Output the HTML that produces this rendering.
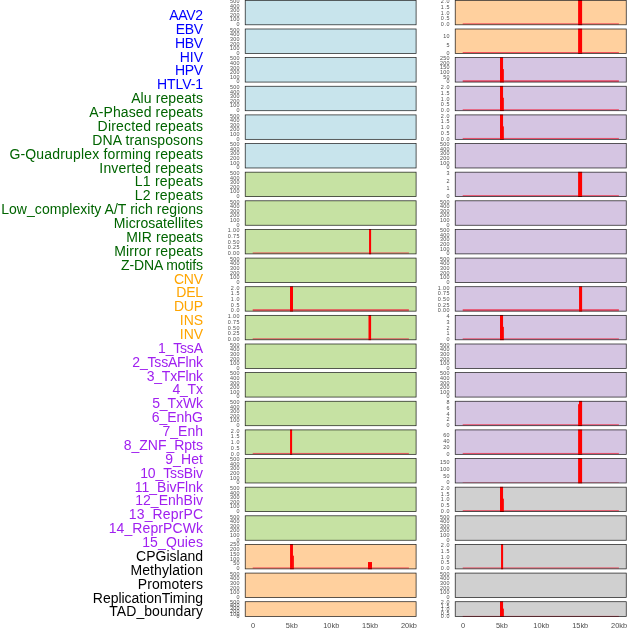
<!DOCTYPE html>
<html lang="en">
<head>
<meta charset="utf-8">
<title>Genomic feature tracks</title>
<style>
html,body{margin:0;padding:0;background:#fff;}
body{width:630px;height:630px;overflow:hidden;}
svg{display:block;font-family:"Liberation Sans",sans-serif;}
.l{font-size:14.0px;text-anchor:end;}
.t{font-size:5.4px;text-anchor:end;fill:#4d4d4d;}
.x{font-size:7.4px;text-anchor:middle;fill:#4d4d4d;}
</style>
</head>
<body>
<svg width="630" height="630" viewBox="0 0 630 630">
<rect width="630" height="630" fill="#ffffff"/>
<g id="plot">
<g id="panels">
<rect x="245.23" y="0.35" width="170.87" height="24.45" fill="#c8e4ec"/>
<rect x="245.23" y="0.35" width="170.87" height="24.45" fill="none" stroke="#000000" stroke-width="0.75" stroke-opacity="0.85"/>
<text x="239.38" y="3.00" class="t" textLength="9.31">500</text>
<text x="239.38" y="8.00" class="t" textLength="9.31">400</text>
<text x="239.38" y="12.00" class="t" textLength="9.31">300</text>
<text x="239.38" y="17.00" class="t" textLength="9.31">200</text>
<text x="239.38" y="21.00" class="t" textLength="9.31">100</text>
<text x="239.38" y="26.00" class="t">0</text>
<rect x="245.23" y="28.99" width="170.87" height="24.45" fill="#c8e4ec"/>
<rect x="245.23" y="28.99" width="170.87" height="24.45" fill="none" stroke="#000000" stroke-width="0.75" stroke-opacity="0.85"/>
<text x="239.38" y="32.00" class="t" textLength="9.31">500</text>
<text x="239.38" y="36.00" class="t" textLength="9.31">400</text>
<text x="239.38" y="41.00" class="t" textLength="9.31">300</text>
<text x="239.38" y="46.00" class="t" textLength="9.31">200</text>
<text x="239.38" y="50.00" class="t" textLength="9.31">100</text>
<text x="239.38" y="55.00" class="t">0</text>
<rect x="245.23" y="57.62" width="170.87" height="24.45" fill="#c8e4ec"/>
<rect x="245.23" y="57.62" width="170.87" height="24.45" fill="none" stroke="#000000" stroke-width="0.75" stroke-opacity="0.85"/>
<text x="239.38" y="60.00" class="t" textLength="9.31">500</text>
<text x="239.38" y="65.00" class="t" textLength="9.31">400</text>
<text x="239.38" y="70.00" class="t" textLength="9.31">300</text>
<text x="239.38" y="74.00" class="t" textLength="9.31">200</text>
<text x="239.38" y="79.00" class="t" textLength="9.31">100</text>
<text x="239.38" y="83.00" class="t">0</text>
<rect x="245.23" y="86.26" width="170.87" height="24.45" fill="#c8e4ec"/>
<rect x="245.23" y="86.26" width="170.87" height="24.45" fill="none" stroke="#000000" stroke-width="0.75" stroke-opacity="0.85"/>
<text x="239.38" y="89.00" class="t" textLength="9.31">500</text>
<text x="239.38" y="94.00" class="t" textLength="9.31">400</text>
<text x="239.38" y="98.00" class="t" textLength="9.31">300</text>
<text x="239.38" y="103.00" class="t" textLength="9.31">200</text>
<text x="239.38" y="107.00" class="t" textLength="9.31">100</text>
<text x="239.38" y="112.00" class="t">0</text>
<rect x="245.23" y="114.90" width="170.87" height="24.45" fill="#c8e4ec"/>
<rect x="245.23" y="114.90" width="170.87" height="24.45" fill="none" stroke="#000000" stroke-width="0.75" stroke-opacity="0.85"/>
<text x="239.38" y="118.00" class="t" textLength="9.31">500</text>
<text x="239.38" y="122.00" class="t" textLength="9.31">400</text>
<text x="239.38" y="127.00" class="t" textLength="9.31">300</text>
<text x="239.38" y="131.00" class="t" textLength="9.31">200</text>
<text x="239.38" y="136.00" class="t" textLength="9.31">100</text>
<text x="239.38" y="141.00" class="t">0</text>
<rect x="245.23" y="143.53" width="170.87" height="24.45" fill="#c8e4ec"/>
<rect x="245.23" y="143.53" width="170.87" height="24.45" fill="none" stroke="#000000" stroke-width="0.75" stroke-opacity="0.85"/>
<text x="239.38" y="146.00" class="t" textLength="9.31">500</text>
<text x="239.38" y="151.00" class="t" textLength="9.31">400</text>
<text x="239.38" y="155.00" class="t" textLength="9.31">300</text>
<text x="239.38" y="160.00" class="t" textLength="9.31">200</text>
<text x="239.38" y="165.00" class="t" textLength="9.31">100</text>
<text x="239.38" y="169.00" class="t">0</text>
<rect x="245.23" y="172.17" width="170.87" height="24.45" fill="#c6e2a3"/>
<rect x="245.23" y="172.17" width="170.87" height="24.45" fill="none" stroke="#000000" stroke-width="0.75" stroke-opacity="0.85"/>
<text x="239.38" y="175.00" class="t" textLength="9.31">500</text>
<text x="239.38" y="180.00" class="t" textLength="9.31">400</text>
<text x="239.38" y="184.00" class="t" textLength="9.31">300</text>
<text x="239.38" y="189.00" class="t" textLength="9.31">200</text>
<text x="239.38" y="193.00" class="t" textLength="9.31">100</text>
<text x="239.38" y="198.00" class="t">0</text>
<rect x="245.23" y="200.80" width="170.87" height="24.45" fill="#c6e2a3"/>
<rect x="245.23" y="200.80" width="170.87" height="24.45" fill="none" stroke="#000000" stroke-width="0.75" stroke-opacity="0.85"/>
<text x="239.38" y="204.00" class="t" textLength="9.31">500</text>
<text x="239.38" y="208.00" class="t" textLength="9.31">400</text>
<text x="239.38" y="213.00" class="t" textLength="9.31">300</text>
<text x="239.38" y="217.00" class="t" textLength="9.31">200</text>
<text x="239.38" y="222.00" class="t" textLength="9.31">100</text>
<text x="239.38" y="227.00" class="t">0</text>
<rect x="245.23" y="229.44" width="170.87" height="24.45" fill="#c6e2a3"/>
<rect x="252.70" y="252.49" width="156.2" height="0.90" fill="#ee2a44" opacity="0.85"/>
<rect x="369.05" y="229.09" width="2.05" height="25.15" fill="#ff0000"/>
<rect x="245.23" y="229.44" width="170.87" height="24.45" fill="none" stroke="#000000" stroke-width="0.75" stroke-opacity="0.85"/>
<text x="239.38" y="232.00" class="t" textLength="11.51">1.00</text>
<text x="239.38" y="238.00" class="t" textLength="11.51">0.75</text>
<text x="239.38" y="244.00" class="t" textLength="11.51">0.50</text>
<text x="239.38" y="249.00" class="t" textLength="11.51">0.25</text>
<text x="239.38" y="255.00" class="t" textLength="11.51">0.00</text>
<rect x="245.23" y="258.08" width="170.87" height="24.45" fill="#c6e2a3"/>
<rect x="245.23" y="258.08" width="170.87" height="24.45" fill="none" stroke="#000000" stroke-width="0.75" stroke-opacity="0.85"/>
<text x="239.38" y="261.00" class="t" textLength="9.31">500</text>
<text x="239.38" y="265.00" class="t" textLength="9.31">400</text>
<text x="239.38" y="270.00" class="t" textLength="9.31">300</text>
<text x="239.38" y="275.00" class="t" textLength="9.31">200</text>
<text x="239.38" y="279.00" class="t" textLength="9.31">100</text>
<text x="239.38" y="284.00" class="t">0</text>
<rect x="245.23" y="286.71" width="170.87" height="24.45" fill="#c6e2a3"/>
<rect x="252.70" y="309.11" width="156.2" height="2.00" fill="#ee2a44" opacity="0.72"/>
<rect x="290.00" y="286.36" width="3.00" height="25.15" fill="#ff0000"/>
<rect x="245.23" y="286.71" width="170.87" height="24.45" fill="none" stroke="#000000" stroke-width="0.75" stroke-opacity="0.85"/>
<text x="239.38" y="290.00" class="t" textLength="8.51">2.0</text>
<text x="239.38" y="295.00" class="t" textLength="8.51">1.5</text>
<text x="239.38" y="301.00" class="t" textLength="8.51">1.0</text>
<text x="239.38" y="307.00" class="t" textLength="8.51">0.5</text>
<text x="239.38" y="312.00" class="t" textLength="8.51">0.0</text>
<rect x="245.23" y="315.35" width="170.87" height="24.45" fill="#c6e2a3"/>
<rect x="252.70" y="338.40" width="156.2" height="0.90" fill="#ee2a44" opacity="0.85"/>
<rect x="368.50" y="315.00" width="2.60" height="25.15" fill="#ff0000"/>
<rect x="245.23" y="315.35" width="170.87" height="24.45" fill="none" stroke="#000000" stroke-width="0.75" stroke-opacity="0.85"/>
<text x="239.38" y="318.00" class="t" textLength="11.51">1.00</text>
<text x="239.38" y="324.00" class="t" textLength="11.51">0.75</text>
<text x="239.38" y="330.00" class="t" textLength="11.51">0.50</text>
<text x="239.38" y="335.00" class="t" textLength="11.51">0.25</text>
<text x="239.38" y="341.00" class="t" textLength="11.51">0.00</text>
<rect x="245.23" y="343.99" width="170.87" height="24.45" fill="#c6e2a3"/>
<rect x="245.23" y="343.99" width="170.87" height="24.45" fill="none" stroke="#000000" stroke-width="0.75" stroke-opacity="0.85"/>
<text x="239.38" y="347.00" class="t" textLength="9.31">500</text>
<text x="239.38" y="351.00" class="t" textLength="9.31">400</text>
<text x="239.38" y="356.00" class="t" textLength="9.31">300</text>
<text x="239.38" y="361.00" class="t" textLength="9.31">200</text>
<text x="239.38" y="365.00" class="t" textLength="9.31">100</text>
<text x="239.38" y="370.00" class="t">0</text>
<rect x="245.23" y="372.62" width="170.87" height="24.45" fill="#c6e2a3"/>
<rect x="245.23" y="372.62" width="170.87" height="24.45" fill="none" stroke="#000000" stroke-width="0.75" stroke-opacity="0.85"/>
<text x="239.38" y="375.00" class="t" textLength="9.31">500</text>
<text x="239.38" y="380.00" class="t" textLength="9.31">400</text>
<text x="239.38" y="385.00" class="t" textLength="9.31">300</text>
<text x="239.38" y="389.00" class="t" textLength="9.31">200</text>
<text x="239.38" y="394.00" class="t" textLength="9.31">100</text>
<text x="239.38" y="398.00" class="t">0</text>
<rect x="245.23" y="401.26" width="170.87" height="24.45" fill="#c6e2a3"/>
<rect x="245.23" y="401.26" width="170.87" height="24.45" fill="none" stroke="#000000" stroke-width="0.75" stroke-opacity="0.85"/>
<text x="239.38" y="404.00" class="t" textLength="9.31">500</text>
<text x="239.38" y="409.00" class="t" textLength="9.31">400</text>
<text x="239.38" y="413.00" class="t" textLength="9.31">300</text>
<text x="239.38" y="418.00" class="t" textLength="9.31">200</text>
<text x="239.38" y="422.00" class="t" textLength="9.31">100</text>
<text x="239.38" y="427.00" class="t">0</text>
<rect x="245.23" y="429.90" width="170.87" height="24.45" fill="#c6e2a3"/>
<rect x="252.70" y="452.95" width="156.2" height="0.90" fill="#ee2a44" opacity="0.85"/>
<rect x="290.05" y="429.55" width="2.05" height="25.15" fill="#ff0000"/>
<rect x="245.23" y="429.90" width="170.87" height="24.45" fill="none" stroke="#000000" stroke-width="0.75" stroke-opacity="0.85"/>
<text x="239.38" y="433.00" class="t" textLength="8.51">2.0</text>
<text x="239.38" y="438.00" class="t" textLength="8.51">1.5</text>
<text x="239.38" y="444.00" class="t" textLength="8.51">1.0</text>
<text x="239.38" y="450.00" class="t" textLength="8.51">0.5</text>
<text x="239.38" y="456.00" class="t" textLength="8.51">0.0</text>
<rect x="245.23" y="458.53" width="170.87" height="24.45" fill="#c6e2a3"/>
<rect x="245.23" y="458.53" width="170.87" height="24.45" fill="none" stroke="#000000" stroke-width="0.75" stroke-opacity="0.85"/>
<text x="239.38" y="461.00" class="t" textLength="9.31">500</text>
<text x="239.38" y="466.00" class="t" textLength="9.31">400</text>
<text x="239.38" y="470.00" class="t" textLength="9.31">300</text>
<text x="239.38" y="475.00" class="t" textLength="9.31">200</text>
<text x="239.38" y="480.00" class="t" textLength="9.31">100</text>
<text x="239.38" y="484.00" class="t">0</text>
<rect x="245.23" y="487.17" width="170.87" height="24.45" fill="#c6e2a3"/>
<rect x="245.23" y="487.17" width="170.87" height="24.45" fill="none" stroke="#000000" stroke-width="0.75" stroke-opacity="0.85"/>
<text x="239.38" y="490.00" class="t" textLength="9.31">500</text>
<text x="239.38" y="495.00" class="t" textLength="9.31">400</text>
<text x="239.38" y="499.00" class="t" textLength="9.31">300</text>
<text x="239.38" y="504.00" class="t" textLength="9.31">200</text>
<text x="239.38" y="508.00" class="t" textLength="9.31">100</text>
<text x="239.38" y="513.00" class="t">0</text>
<rect x="245.23" y="515.80" width="170.87" height="24.45" fill="#c6e2a3"/>
<rect x="245.23" y="515.80" width="170.87" height="24.45" fill="none" stroke="#000000" stroke-width="0.75" stroke-opacity="0.85"/>
<text x="239.38" y="519.00" class="t" textLength="9.31">500</text>
<text x="239.38" y="523.00" class="t" textLength="9.31">400</text>
<text x="239.38" y="528.00" class="t" textLength="9.31">300</text>
<text x="239.38" y="532.00" class="t" textLength="9.31">200</text>
<text x="239.38" y="537.00" class="t" textLength="9.31">100</text>
<text x="239.38" y="542.00" class="t">0</text>
<rect x="245.23" y="544.44" width="170.87" height="24.45" fill="#ffd09e"/>
<rect x="252.70" y="567.49" width="156.2" height="0.90" fill="#ee2a44" opacity="0.85"/>
<rect x="290.05" y="544.09" width="2.90" height="25.15" fill="#ff0000"/>
<rect x="292.95" y="555.69" width="0.90" height="13.55" fill="#ff0000"/>
<rect x="368.00" y="562.04" width="4.00" height="7.20" fill="#ff0000"/>
<rect x="245.23" y="544.44" width="170.87" height="24.45" fill="none" stroke="#000000" stroke-width="0.75" stroke-opacity="0.85"/>
<text x="239.38" y="546.00" class="t" textLength="9.31">250</text>
<text x="239.38" y="551.00" class="t" textLength="9.31">200</text>
<text x="239.38" y="556.00" class="t" textLength="9.31">150</text>
<text x="239.38" y="561.00" class="t" textLength="9.31">100</text>
<text x="239.38" y="565.00" class="t" textLength="6.20">50</text>
<text x="239.38" y="570.00" class="t">0</text>
<rect x="245.23" y="573.08" width="170.87" height="24.45" fill="#ffd09e"/>
<rect x="245.23" y="573.08" width="170.87" height="24.45" fill="none" stroke="#000000" stroke-width="0.75" stroke-opacity="0.85"/>
<text x="239.38" y="576.00" class="t" textLength="9.31">500</text>
<text x="239.38" y="580.00" class="t" textLength="9.31">400</text>
<text x="239.38" y="585.00" class="t" textLength="9.31">300</text>
<text x="239.38" y="590.00" class="t" textLength="9.31">200</text>
<text x="239.38" y="594.00" class="t" textLength="9.31">100</text>
<text x="239.38" y="599.00" class="t">0</text>
<rect x="245.23" y="601.71" width="170.87" height="14.70" fill="#ffd09e"/>
<rect x="245.23" y="601.71" width="170.87" height="14.70" fill="none" stroke="#000000" stroke-width="0.75" stroke-opacity="0.85"/>
<text x="239.38" y="604.00" class="t" textLength="9.31">500</text>
<text x="239.38" y="607.00" class="t" textLength="9.31">400</text>
<text x="239.38" y="610.00" class="t" textLength="9.31">300</text>
<text x="239.38" y="613.00" class="t" textLength="9.31">200</text>
<text x="239.38" y="616.00" class="t" textLength="9.31">100</text>
<text x="239.38" y="618.00" class="t">0</text>
<rect x="455.23" y="0.35" width="171.02" height="24.45" fill="#ffd09e"/>
<rect x="462.70" y="23.40" width="156.2" height="0.90" fill="#ee2a44" opacity="0.85"/>
<rect x="578.10" y="0.00" width="4.00" height="25.15" fill="#ff0000"/>
<rect x="455.23" y="0.35" width="171.02" height="24.45" fill="none" stroke="#000000" stroke-width="0.75" stroke-opacity="0.85"/>
<text x="449.38" y="3.00" class="t" textLength="8.51">2.0</text>
<text x="449.38" y="9.00" class="t" textLength="8.51">1.5</text>
<text x="449.38" y="15.00" class="t" textLength="8.51">1.0</text>
<text x="449.38" y="20.00" class="t" textLength="8.51">0.5</text>
<text x="449.38" y="26.00" class="t" textLength="8.51">0.0</text>
<rect x="455.23" y="28.99" width="171.02" height="24.45" fill="#ffd09e"/>
<rect x="462.70" y="52.04" width="156.2" height="0.90" fill="#ee2a44" opacity="0.85"/>
<rect x="578.10" y="28.64" width="4.00" height="25.15" fill="#ff0000"/>
<rect x="455.23" y="28.99" width="171.02" height="24.45" fill="none" stroke="#000000" stroke-width="0.75" stroke-opacity="0.85"/>
<text x="449.38" y="38.00" class="t" textLength="6.20">10</text>
<text x="449.38" y="47.00" class="t">5</text>
<text x="449.38" y="55.00" class="t">0</text>
<rect x="455.23" y="57.62" width="171.02" height="24.45" fill="#d5c5e2"/>
<rect x="462.70" y="80.17" width="156.2" height="1.85" fill="#ee2a44" opacity="0.72"/>
<rect x="500.00" y="57.27" width="3.05" height="25.15" fill="#ff0000"/>
<rect x="503.05" y="69.11" width="0.85" height="13.31" fill="#ff0000"/>
<rect x="455.23" y="57.62" width="171.02" height="24.45" fill="none" stroke="#000000" stroke-width="0.75" stroke-opacity="0.85"/>
<text x="449.38" y="60.00" class="t" textLength="9.31">250</text>
<text x="449.38" y="65.00" class="t" textLength="9.31">200</text>
<text x="449.38" y="69.00" class="t" textLength="9.31">150</text>
<text x="449.38" y="74.00" class="t" textLength="9.31">100</text>
<text x="449.38" y="79.00" class="t" textLength="6.20">50</text>
<text x="449.38" y="83.00" class="t">0</text>
<rect x="455.23" y="86.26" width="171.02" height="24.45" fill="#d5c5e2"/>
<rect x="462.70" y="109.31" width="156.2" height="0.90" fill="#ee2a44" opacity="0.85"/>
<rect x="500.00" y="85.91" width="3.05" height="25.15" fill="#ff0000"/>
<rect x="503.05" y="97.75" width="0.85" height="13.31" fill="#ff0000"/>
<rect x="455.23" y="86.26" width="171.02" height="24.45" fill="none" stroke="#000000" stroke-width="0.75" stroke-opacity="0.85"/>
<text x="449.38" y="89.00" class="t" textLength="8.51">2.0</text>
<text x="449.38" y="95.00" class="t" textLength="8.51">1.5</text>
<text x="449.38" y="101.00" class="t" textLength="8.51">1.0</text>
<text x="449.38" y="106.00" class="t" textLength="8.51">0.5</text>
<text x="449.38" y="112.00" class="t" textLength="8.51">0.0</text>
<rect x="455.23" y="114.90" width="171.02" height="24.45" fill="#d5c5e2"/>
<rect x="462.70" y="137.95" width="156.2" height="0.90" fill="#ee2a44" opacity="0.85"/>
<rect x="500.00" y="114.55" width="3.05" height="25.15" fill="#ff0000"/>
<rect x="503.05" y="126.39" width="0.85" height="13.31" fill="#ff0000"/>
<rect x="455.23" y="114.90" width="171.02" height="24.45" fill="none" stroke="#000000" stroke-width="0.75" stroke-opacity="0.85"/>
<text x="449.38" y="118.00" class="t" textLength="8.51">2.0</text>
<text x="449.38" y="123.00" class="t" textLength="8.51">1.5</text>
<text x="449.38" y="129.00" class="t" textLength="8.51">1.0</text>
<text x="449.38" y="135.00" class="t" textLength="8.51">0.5</text>
<text x="449.38" y="141.00" class="t" textLength="8.51">0.0</text>
<rect x="455.23" y="143.53" width="171.02" height="24.45" fill="#d5c5e2"/>
<rect x="455.23" y="143.53" width="171.02" height="24.45" fill="none" stroke="#000000" stroke-width="0.75" stroke-opacity="0.85"/>
<text x="449.38" y="146.00" class="t" textLength="9.31">500</text>
<text x="449.38" y="151.00" class="t" textLength="9.31">400</text>
<text x="449.38" y="155.00" class="t" textLength="9.31">300</text>
<text x="449.38" y="160.00" class="t" textLength="9.31">200</text>
<text x="449.38" y="165.00" class="t" textLength="9.31">100</text>
<text x="449.38" y="169.00" class="t">0</text>
<rect x="455.23" y="172.17" width="171.02" height="24.45" fill="#d5c5e2"/>
<rect x="462.70" y="195.22" width="156.2" height="0.90" fill="#ee2a44" opacity="0.85"/>
<rect x="578.10" y="171.82" width="4.00" height="25.15" fill="#ff0000"/>
<rect x="455.23" y="172.17" width="171.02" height="24.45" fill="none" stroke="#000000" stroke-width="0.75" stroke-opacity="0.85"/>
<text x="449.38" y="175.00" class="t">3</text>
<text x="449.38" y="183.00" class="t">2</text>
<text x="449.38" y="190.00" class="t">1</text>
<text x="449.38" y="198.00" class="t">0</text>
<rect x="455.23" y="200.80" width="171.02" height="24.45" fill="#d5c5e2"/>
<rect x="455.23" y="200.80" width="171.02" height="24.45" fill="none" stroke="#000000" stroke-width="0.75" stroke-opacity="0.85"/>
<text x="449.38" y="204.00" class="t" textLength="9.31">500</text>
<text x="449.38" y="208.00" class="t" textLength="9.31">400</text>
<text x="449.38" y="213.00" class="t" textLength="9.31">300</text>
<text x="449.38" y="217.00" class="t" textLength="9.31">200</text>
<text x="449.38" y="222.00" class="t" textLength="9.31">100</text>
<text x="449.38" y="227.00" class="t">0</text>
<rect x="455.23" y="229.44" width="171.02" height="24.45" fill="#d5c5e2"/>
<rect x="455.23" y="229.44" width="171.02" height="24.45" fill="none" stroke="#000000" stroke-width="0.75" stroke-opacity="0.85"/>
<text x="449.38" y="232.00" class="t" textLength="9.31">500</text>
<text x="449.38" y="237.00" class="t" textLength="9.31">400</text>
<text x="449.38" y="241.00" class="t" textLength="9.31">300</text>
<text x="449.38" y="246.00" class="t" textLength="9.31">200</text>
<text x="449.38" y="251.00" class="t" textLength="9.31">100</text>
<text x="449.38" y="255.00" class="t">0</text>
<rect x="455.23" y="258.08" width="171.02" height="24.45" fill="#d5c5e2"/>
<rect x="455.23" y="258.08" width="171.02" height="24.45" fill="none" stroke="#000000" stroke-width="0.75" stroke-opacity="0.85"/>
<text x="449.38" y="261.00" class="t" textLength="9.31">500</text>
<text x="449.38" y="265.00" class="t" textLength="9.31">400</text>
<text x="449.38" y="270.00" class="t" textLength="9.31">300</text>
<text x="449.38" y="275.00" class="t" textLength="9.31">200</text>
<text x="449.38" y="279.00" class="t" textLength="9.31">100</text>
<text x="449.38" y="284.00" class="t">0</text>
<rect x="455.23" y="286.71" width="171.02" height="24.45" fill="#d5c5e2"/>
<rect x="462.70" y="309.11" width="156.2" height="2.00" fill="#ee2a44" opacity="0.72"/>
<rect x="579.05" y="286.36" width="3.05" height="25.15" fill="#ff0000"/>
<rect x="455.23" y="286.71" width="171.02" height="24.45" fill="none" stroke="#000000" stroke-width="0.75" stroke-opacity="0.85"/>
<text x="449.38" y="290.00" class="t" textLength="11.51">1.00</text>
<text x="449.38" y="295.00" class="t" textLength="11.51">0.75</text>
<text x="449.38" y="301.00" class="t" textLength="11.51">0.50</text>
<text x="449.38" y="307.00" class="t" textLength="11.51">0.25</text>
<text x="449.38" y="312.00" class="t" textLength="11.51">0.00</text>
<rect x="455.23" y="315.35" width="171.02" height="24.45" fill="#d5c5e2"/>
<rect x="462.70" y="338.40" width="156.2" height="0.90" fill="#ee2a44" opacity="0.85"/>
<rect x="500.00" y="315.00" width="3.05" height="25.15" fill="#ff0000"/>
<rect x="503.05" y="326.84" width="0.85" height="13.31" fill="#ff0000"/>
<rect x="455.23" y="315.35" width="171.02" height="24.45" fill="none" stroke="#000000" stroke-width="0.75" stroke-opacity="0.85"/>
<text x="449.38" y="318.00" class="t">4</text>
<text x="449.38" y="324.00" class="t">3</text>
<text x="449.38" y="330.00" class="t">2</text>
<text x="449.38" y="335.00" class="t">1</text>
<text x="449.38" y="341.00" class="t">0</text>
<rect x="455.23" y="343.99" width="171.02" height="24.45" fill="#d5c5e2"/>
<rect x="455.23" y="343.99" width="171.02" height="24.45" fill="none" stroke="#000000" stroke-width="0.75" stroke-opacity="0.85"/>
<text x="449.38" y="347.00" class="t" textLength="9.31">500</text>
<text x="449.38" y="351.00" class="t" textLength="9.31">400</text>
<text x="449.38" y="356.00" class="t" textLength="9.31">300</text>
<text x="449.38" y="361.00" class="t" textLength="9.31">200</text>
<text x="449.38" y="365.00" class="t" textLength="9.31">100</text>
<text x="449.38" y="370.00" class="t">0</text>
<rect x="455.23" y="372.62" width="171.02" height="24.45" fill="#d5c5e2"/>
<rect x="455.23" y="372.62" width="171.02" height="24.45" fill="none" stroke="#000000" stroke-width="0.75" stroke-opacity="0.85"/>
<text x="449.38" y="375.00" class="t" textLength="9.31">500</text>
<text x="449.38" y="380.00" class="t" textLength="9.31">400</text>
<text x="449.38" y="385.00" class="t" textLength="9.31">300</text>
<text x="449.38" y="389.00" class="t" textLength="9.31">200</text>
<text x="449.38" y="394.00" class="t" textLength="9.31">100</text>
<text x="449.38" y="398.00" class="t">0</text>
<rect x="455.23" y="401.26" width="171.02" height="24.45" fill="#d5c5e2"/>
<rect x="462.70" y="424.31" width="156.2" height="0.90" fill="#ee2a44" opacity="0.85"/>
<rect x="579.00" y="400.91" width="3.10" height="25.15" fill="#ff0000"/>
<rect x="578.10" y="404.19" width="0.90" height="21.87" fill="#ff0000"/>
<rect x="455.23" y="401.26" width="171.02" height="24.45" fill="none" stroke="#000000" stroke-width="0.75" stroke-opacity="0.85"/>
<text x="449.38" y="404.00" class="t">8</text>
<text x="449.38" y="410.00" class="t">6</text>
<text x="449.38" y="416.00" class="t">4</text>
<text x="449.38" y="421.00" class="t">2</text>
<text x="449.38" y="427.00" class="t">0</text>
<rect x="455.23" y="429.90" width="171.02" height="24.45" fill="#d5c5e2"/>
<rect x="462.70" y="452.95" width="156.2" height="0.90" fill="#ee2a44" opacity="0.85"/>
<rect x="578.10" y="429.55" width="4.00" height="25.15" fill="#ff0000"/>
<rect x="455.23" y="429.90" width="171.02" height="24.45" fill="none" stroke="#000000" stroke-width="0.75" stroke-opacity="0.85"/>
<text x="449.38" y="437.00" class="t" textLength="6.20">60</text>
<text x="449.38" y="443.00" class="t" textLength="6.20">40</text>
<text x="449.38" y="449.00" class="t" textLength="6.20">20</text>
<text x="449.38" y="456.00" class="t">0</text>
<rect x="455.23" y="458.53" width="171.02" height="24.45" fill="#d5c5e2"/>
<rect x="462.70" y="482.58" width="156.2" height="0.40" fill="#ee2a44" opacity="0.85"/>
<rect x="578.10" y="458.18" width="4.00" height="25.15" fill="#ff0000"/>
<rect x="455.23" y="458.53" width="171.02" height="24.45" fill="none" stroke="#000000" stroke-width="0.75" stroke-opacity="0.85"/>
<text x="449.38" y="464.00" class="t" textLength="9.31">150</text>
<text x="449.38" y="471.00" class="t" textLength="9.31">100</text>
<text x="449.38" y="478.00" class="t" textLength="6.20">50</text>
<text x="449.38" y="484.00" class="t">0</text>
<rect x="455.23" y="487.17" width="171.02" height="24.45" fill="#d0d0d0"/>
<rect x="462.70" y="510.22" width="156.2" height="0.90" fill="#ee2a44" opacity="0.85"/>
<rect x="500.00" y="486.82" width="3.05" height="25.15" fill="#ff0000"/>
<rect x="503.05" y="498.66" width="0.85" height="13.31" fill="#ff0000"/>
<rect x="455.23" y="487.17" width="171.02" height="24.45" fill="none" stroke="#000000" stroke-width="0.75" stroke-opacity="0.85"/>
<text x="449.38" y="490.00" class="t" textLength="8.51">2.0</text>
<text x="449.38" y="496.00" class="t" textLength="8.51">1.5</text>
<text x="449.38" y="501.00" class="t" textLength="8.51">1.0</text>
<text x="449.38" y="507.00" class="t" textLength="8.51">0.5</text>
<text x="449.38" y="513.00" class="t" textLength="8.51">0.0</text>
<rect x="455.23" y="515.80" width="171.02" height="24.45" fill="#d0d0d0"/>
<rect x="455.23" y="515.80" width="171.02" height="24.45" fill="none" stroke="#000000" stroke-width="0.75" stroke-opacity="0.85"/>
<text x="449.38" y="519.00" class="t" textLength="9.31">500</text>
<text x="449.38" y="523.00" class="t" textLength="9.31">400</text>
<text x="449.38" y="528.00" class="t" textLength="9.31">300</text>
<text x="449.38" y="532.00" class="t" textLength="9.31">200</text>
<text x="449.38" y="537.00" class="t" textLength="9.31">100</text>
<text x="449.38" y="542.00" class="t">0</text>
<rect x="455.23" y="544.44" width="171.02" height="24.45" fill="#d0d0d0"/>
<rect x="462.70" y="567.49" width="156.2" height="0.90" fill="#ee2a44" opacity="0.85"/>
<rect x="501.05" y="544.09" width="2.05" height="25.15" fill="#ff0000"/>
<rect x="455.23" y="544.44" width="171.02" height="24.45" fill="none" stroke="#000000" stroke-width="0.75" stroke-opacity="0.85"/>
<text x="449.38" y="547.00" class="t" textLength="8.51">2.0</text>
<text x="449.38" y="553.00" class="t" textLength="8.51">1.5</text>
<text x="449.38" y="559.00" class="t" textLength="8.51">1.0</text>
<text x="449.38" y="564.00" class="t" textLength="8.51">0.5</text>
<text x="449.38" y="570.00" class="t" textLength="8.51">0.0</text>
<rect x="455.23" y="573.08" width="171.02" height="24.45" fill="#d0d0d0"/>
<rect x="455.23" y="573.08" width="171.02" height="24.45" fill="none" stroke="#000000" stroke-width="0.75" stroke-opacity="0.85"/>
<text x="449.38" y="576.00" class="t" textLength="9.31">500</text>
<text x="449.38" y="580.00" class="t" textLength="9.31">400</text>
<text x="449.38" y="585.00" class="t" textLength="9.31">300</text>
<text x="449.38" y="590.00" class="t" textLength="9.31">200</text>
<text x="449.38" y="594.00" class="t" textLength="9.31">100</text>
<text x="449.38" y="599.00" class="t">0</text>
<rect x="455.23" y="601.71" width="171.02" height="14.70" fill="#d0d0d0"/>
<rect x="462.70" y="615.91" width="156.2" height="0.80" fill="#ee2a44" opacity="0.85"/>
<rect x="500.00" y="601.36" width="3.05" height="15.40" fill="#ff0000"/>
<rect x="503.05" y="608.62" width="0.85" height="8.14" fill="#ff0000"/>
<rect x="455.23" y="601.71" width="171.02" height="14.70" fill="none" stroke="#000000" stroke-width="0.75" stroke-opacity="0.85"/>
<text x="449.38" y="604.00" class="t" textLength="8.51">2.0</text>
<text x="449.38" y="608.00" class="t" textLength="8.51">1.5</text>
<text x="449.38" y="611.00" class="t" textLength="8.51">1.0</text>
<text x="449.38" y="615.00" class="t" textLength="8.51">0.5</text>
<text x="449.38" y="618.00" class="t" textLength="8.51">0.0</text>
</g>
<g id="xlabels">
<text x="253.00" y="628.0" class="x">0</text>
<text x="291.83" y="628.0" class="x">5kb</text>
<text x="331.27" y="628.0" class="x">10kb</text>
<text x="370.10" y="628.0" class="x">15kb</text>
<text x="408.93" y="628.0" class="x">20kb</text>
<text x="463.00" y="628.0" class="x">0</text>
<text x="501.87" y="628.0" class="x">5kb</text>
<text x="541.34" y="628.0" class="x">10kb</text>
<text x="580.21" y="628.0" class="x">15kb</text>
<text x="619.08" y="628.0" class="x">20kb</text>
</g>
</g>
<g id="labels">
<text x="203.0" y="616.41" class="l" fill="#000000" textLength="93.73">TAD_boundary</text>
<text x="203.0" y="602.54" class="l" fill="#000000" textLength="110.15">ReplicationTiming</text>
<text x="203.0" y="588.67" class="l" fill="#000000" textLength="65.27">Promoters</text>
<text x="203.0" y="574.80" class="l" fill="#000000" textLength="72.59">Methylation</text>
<text x="203.0" y="560.93" class="l" fill="#000000">CPGisland</text>
<text x="203.0" y="547.06" class="l" fill="#a020f0" textLength="60.83">15_Quies</text>
<text x="203.0" y="533.19" class="l" fill="#a020f0" textLength="94.37">14_ReprPCWk</text>
<text x="203.0" y="519.32" class="l" fill="#a020f0" textLength="74.15">13_ReprPC</text>
<text x="203.0" y="505.45" class="l" fill="#a020f0">12_EnhBiv</text>
<text x="203.0" y="491.58" class="l" fill="#a020f0">11_BivFlnk</text>
<text x="203.0" y="477.71" class="l" fill="#a020f0" textLength="62.81">10_TssBiv</text>
<text x="203.0" y="463.84" class="l" fill="#a020f0" textLength="37.86">9_Het</text>
<text x="203.0" y="449.97" class="l" fill="#a020f0">8_ZNF_Rpts</text>
<text x="203.0" y="436.10" class="l" fill="#a020f0">7_Enh</text>
<text x="203.0" y="422.23" class="l" fill="#a020f0">6_EnhG</text>
<text x="203.0" y="408.36" class="l" fill="#a020f0" textLength="50.84">5_TxWk</text>
<text x="203.0" y="394.49" class="l" fill="#a020f0" textLength="30.62">4_Tx</text>
<text x="203.0" y="380.62" class="l" fill="#a020f0" textLength="56.37">3_TxFlnk</text>
<text x="203.0" y="366.75" class="l" fill="#a020f0" textLength="70.66">2_TssAFlnk</text>
<text x="203.0" y="352.88" class="l" fill="#a020f0" textLength="44.91">1_TssA</text>
<text x="203.0" y="339.01" class="l" fill="#ffa500" textLength="23.14">INV</text>
<text x="203.0" y="325.14" class="l" fill="#ffa500" textLength="23.14">INS</text>
<text x="203.0" y="311.27" class="l" fill="#ffa500" textLength="28.96">DUP</text>
<text x="203.0" y="297.40" class="l" fill="#ffa500" textLength="26.63">DEL</text>
<text x="203.0" y="283.53" class="l" fill="#ffa500" textLength="28.96">CNV</text>
<text x="203.0" y="269.66" class="l" fill="#006400" textLength="81.93">Z-DNA motifs</text>
<text x="203.0" y="255.79" class="l" fill="#006400" textLength="88.83">Mirror repeats</text>
<text x="203.0" y="241.92" class="l" fill="#006400" textLength="76.85">MIR repeats</text>
<text x="203.0" y="228.05" class="l" fill="#006400" textLength="89.19">Microsatellites</text>
<text x="203.0" y="214.18" class="l" fill="#006400" textLength="201.80">Low_complexity A/T rich regions</text>
<text x="203.0" y="200.31" class="l" fill="#006400" textLength="68.16">L2 repeats</text>
<text x="203.0" y="186.44" class="l" fill="#006400" textLength="68.16">L1 repeats</text>
<text x="203.0" y="172.57" class="l" fill="#006400" textLength="103.67">Inverted repeats</text>
<text x="203.0" y="158.70" class="l" fill="#006400" textLength="193.59">G-Quadruplex forming repeats</text>
<text x="203.0" y="144.83" class="l" fill="#006400" textLength="110.64">DNA transposons</text>
<text x="203.0" y="130.96" class="l" fill="#006400" textLength="105.42">Directed repeats</text>
<text x="203.0" y="117.09" class="l" fill="#006400" textLength="113.77">A-Phased repeats</text>
<text x="203.0" y="103.22" class="l" fill="#006400" textLength="71.82">Alu repeats</text>
<text x="203.0" y="89.35" class="l" fill="#0000ff" textLength="45.92">HTLV-1</text>
<text x="203.0" y="75.48" class="l" fill="#0000ff" textLength="28.09">HPV</text>
<text x="203.0" y="61.61" class="l" fill="#0000ff">HIV</text>
<text x="203.0" y="47.74" class="l" fill="#0000ff" textLength="28.09">HBV</text>
<text x="203.0" y="33.87" class="l" fill="#0000ff" textLength="27.31">EBV</text>
<text x="203.0" y="20.00" class="l" fill="#0000ff" textLength="33.76">AAV2</text>
</g>
</svg>
</body>
</html>
